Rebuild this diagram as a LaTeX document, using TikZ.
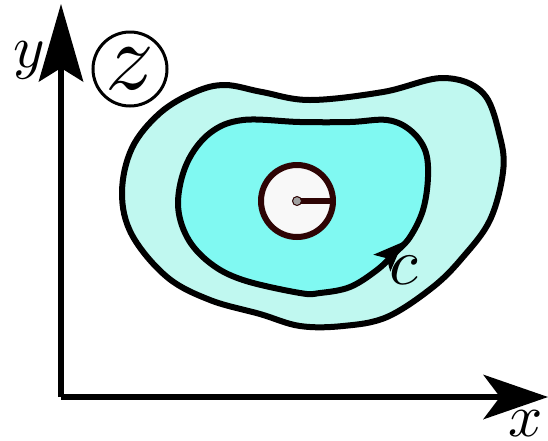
\documentclass[tikz,border=0pt]{standalone}
\usetikzlibrary{arrows.meta}
\definecolor{outerfill}{HTML}{C0F8F0}
\definecolor{innerfill}{HTML}{80F9F2}
\definecolor{darkrim}{HTML}{2E0404}
\definecolor{holefill}{HTML}{F8F8F8}
\definecolor{dotfill}{HTML}{A0A0A0}
\tikzset{
  axis/.style={line width=6.5pt},
  blob/.style={line width=6pt, draw=black, line join=round},
  lbl/.style={inner sep=0pt, scale=6},
}
\begin{document}
\begin{tikzpicture}[x=1pt,y=-1pt]
\useasboundingbox (0,0) rectangle (548,440);
% outer region
\draw[blob, fill=outerfill] plot[smooth cycle, tension=0.6] coordinates {
 (122,193) (132,148) (160,113) (195,92) (225,85) (262,92) (310,100) (383,92)
 (443,78) (483,93) (500,137) (503,172) (490,220) (463,257) (433,287) (387,317)
 (343,326) (300,326) (260,314) (210,300) (167,277) (132,235)};
% inner region
\draw[blob, fill=innerfill] plot[smooth cycle, tension=0.6] coordinates {
 (178,203) (187,163) (210,133) (243,120) (300,122) (350,122) (387,120) (410,130)
 (425,150) (428,177) (423,210) (410,237) (395,253) (377,270) (350,287) (320,293)
 (300,293) (243,280) (210,263) (187,237)};
% arrow on contour
\coordinate (cb) at (379,266);
\coordinate (ct) at (403,242);
\draw[line width=1pt, -{Stealth[length=30pt,width=24pt,inset=7pt,line width=0pt]}] (cb) -- (ct);
\node[lbl, scale=1.1] (c) at (404,270) {$c$};
% hole
\node[circle, draw=darkrim, fill=holefill, line width=6pt, minimum size=72pt, inner sep=0pt] (hole) at (297,201) {};
\coordinate (hc) at (297,201);
\draw[darkrim, line width=6pt] (hc) -- (hole.east);
\node[circle, draw=darkrim, fill=dotfill, line width=1pt, minimum size=9pt, inner sep=0pt] (dot) at (hc) {};
% axes
\coordinate (o) at (61,397);
\coordinate (ytip) at (61,4);
\coordinate (xtip) at (548,397);
\draw[axis, -{Stealth[length=78pt,width=45pt,inset=14pt,line width=0pt]}] (o) -- (ytip);
\draw[axis, -{Stealth[length=65pt,width=45pt,inset=17pt,line width=0pt]}] (o) -- (xtip);
\node[lbl] (ylab) at (29,60) {$y$};
\node[lbl] (xlab) at (526,424) {$x$};
% z circle
\node[circle, draw, line width=3pt, minimum size=74pt, inner sep=0pt] (zc) at (130,69) {};
\node[lbl, scale=1.6] (z) at (zc) {$z$};
\end{tikzpicture}
\end{document}
